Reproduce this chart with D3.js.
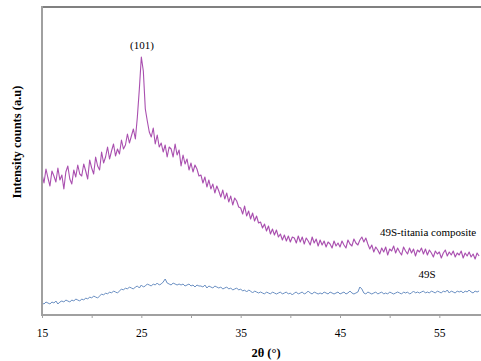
<!DOCTYPE html>
<html>
<head>
<meta charset="utf-8">
<script src="https://cdn.jsdelivr.net/npm/d3@7"></script>
<style>
  html, body { margin: 0; padding: 0; background: #fff; }
  svg { display: block; font-family: "Liberation Serif", "DejaVu Serif", serif; }
</style>
</head>
<body>
<svg id="chart" width="481" height="361"></svg>
<script>
// 2θ sampling: start 15°, step 0.2°
const START = 15, STEP = 0.2;

// 49S-titania composite (arbitrary intensity units)
const composite = [
  141, 132, 146, 137, 129, 144, 139, 133, 147, 135,
  140, 126, 143, 149, 136, 131, 145, 138, 150, 141,
  139, 151, 144, 136, 155, 147, 141, 158, 149, 145,
  163, 152, 158, 168, 156, 164, 171, 159, 166, 161,
  175, 166, 170, 181, 172, 179, 186, 176, 198, 226,
  258, 244, 206, 194, 183, 178, 187, 171, 180, 168,
  172, 163, 170, 158, 168, 166, 158, 171, 160, 165,
  149, 160, 151, 156, 145, 152, 143, 150, 146, 139,
  140, 132, 138, 128, 135, 126, 131, 122, 129, 124,
  118, 125, 116, 122, 113, 119, 110, 117, 114, 108,
  107, 101, 109, 99, 104, 96, 102, 94, 99, 92,
  93, 87, 91, 84, 89, 81, 86, 80, 85, 78,
  81, 75, 80, 74, 79, 73, 78, 77, 72, 79,
  73, 78, 71, 77, 74, 70, 78, 72, 76, 69,
  75, 70, 74, 68, 73, 71, 67, 74, 69, 72,
  68, 74, 70, 67, 75, 71, 69, 76, 72, 70,
  75, 78, 73, 77, 71, 66, 70, 63, 68, 65,
  61, 67, 63, 68, 60, 66, 64, 69, 62, 67,
  63, 60, 68, 64, 61, 67, 62, 66, 59, 65,
  63, 67, 61, 66, 60, 65, 62, 58, 64, 61,
  63, 57, 62, 65, 59, 63, 60, 64, 58, 62,
  60, 64, 57, 62, 59, 63, 58, 61, 56, 62, 59
];

// 49S
const base49S = [
  12, 11, 13, 12, 11, 13, 12, 14, 11, 13,
  14, 13, 15, 14, 13, 15, 14, 16, 15, 14,
  16, 15, 17, 16, 18, 17, 19, 18, 17, 19,
  21, 20, 22, 21, 23, 22, 24, 23, 22, 24,
  26, 25, 27, 26, 28, 27, 26, 28, 29, 27,
  30, 28, 29, 31, 30, 29, 31, 30, 32, 30,
  31, 33, 36, 32, 31, 30, 32, 31, 30, 31,
  30, 31, 29, 30, 31, 29, 30, 28, 30, 29,
  29, 28, 30, 27, 29, 28, 27, 29, 28, 27,
  28, 26, 27, 28, 26, 27, 25, 26, 27, 25,
  26, 24, 25, 23, 25, 24, 22, 24, 23, 22,
  23, 22, 21, 23, 22, 21, 23, 22, 21, 22,
  23, 21, 22, 23, 21, 22, 20, 22, 23, 21,
  22, 23, 21, 22, 24, 22, 21, 23, 22, 21,
  22, 21, 23, 22, 21, 23, 22, 21, 22, 23,
  21, 22, 23, 21, 22, 24, 22, 21, 22, 23,
  28, 26, 22, 21, 23, 22, 21, 22, 23, 21,
  22, 23, 21, 22, 21, 23, 22, 21, 22, 23,
  22, 21, 23, 22, 23, 21, 22, 24, 22, 23,
  22, 23, 24, 22, 23, 22, 24, 23, 22, 24,
  23, 22, 24, 23, 25, 22, 24, 23, 22, 24,
  23, 24, 22, 24, 23, 25, 23, 22, 24, 23, 24
];

const xTicks = [15, 20, 25, 30, 35, 40, 45, 50, 55];
const xTickLabels = [15, 25, 35, 45, 55];

const W = 481, H = 361;
const m = { left: 42, top: 7, bottom: 315 };
const svg = d3.select("#chart");

const x = d3.scaleLinear().domain([15, 60]).range([m.left, 489]);
const y = d3.scaleLinear().domain([0, 308]).range([m.bottom, m.top]);

svg.append("clipPath").attr("id", "clip")
  .append("rect").attr("x", m.left).attr("y", m.top).attr("width", W - m.left).attr("height", m.bottom - m.top);

const toPts = (arr) => arr.map((v, i) => [START + i * STEP, v]);
const line = d3.line().x(d => x(d[0])).y(d => y(d[1]));

const plot = svg.append("g").attr("clip-path", "url(#clip)");
plot.append("path").datum(toPts(base49S))
  .attr("fill", "none").attr("stroke", "#6a8fc2").attr("stroke-width", 1).attr("d", line);
plot.append("path").datum(toPts(composite))
  .attr("fill", "none").attr("stroke", "#a03ca6").attr("stroke-width", 1.1)
  .attr("stroke-opacity", 0.9).attr("stroke-linejoin", "round").attr("d", line);

// frame: top border, left axis, bottom axis
svg.append("line").attr("x1", m.left).attr("x2", W).attr("y1", m.top).attr("y2", m.top)
  .attr("stroke", "#808080").attr("stroke-width", 2);
svg.append("line").attr("x1", m.left).attr("x2", m.left).attr("y1", m.top - 1).attr("y2", m.bottom + 1)
  .attr("stroke", "#a0a0a0").attr("stroke-width", 2);

const xAxis = d3.axisBottom(x).tickValues(xTicks).tickSize(3)
  .tickFormat(d => xTickLabels.includes(d) ? d : "");
const gx = svg.append("g").attr("transform", `translate(0,${m.bottom})`).call(xAxis);
gx.select(".domain").attr("d", `M${m.left},0H${W}`).attr("stroke", "#a0a0a0").attr("stroke-width", 2);
gx.selectAll(".tick line").attr("stroke", "#a0a0a0");
gx.selectAll(".tick text").attr("font-family", "Liberation Serif, serif").attr("font-size", 11.5)
  .attr("fill", "#000").attr("dy", 0).attr("y", 22);

// labels
svg.append("text").attr("x", 266).attr("y", 357).attr("text-anchor", "middle")
  .attr("font-size", 12.5).attr("font-weight", "bold").text("2θ (°)");
svg.append("text").attr("transform", "translate(21,142) rotate(-90)").attr("text-anchor", "middle")
  .attr("font-size", 12.5).attr("font-weight", "bold").text("Intensity counts (a.u)");
svg.append("text").attr("x", 142).attr("y", 49).attr("text-anchor", "middle")
  .attr("font-size", 11).text("(101)");
svg.append("text").attr("x", 380).attr("y", 236)
  .attr("font-size", 11).text("49S-titania composite");
svg.append("text").attr("x", 427).attr("y", 278).attr("text-anchor", "middle")
  .attr("font-size", 11).text("49S");
</script>
</body>
</html>
